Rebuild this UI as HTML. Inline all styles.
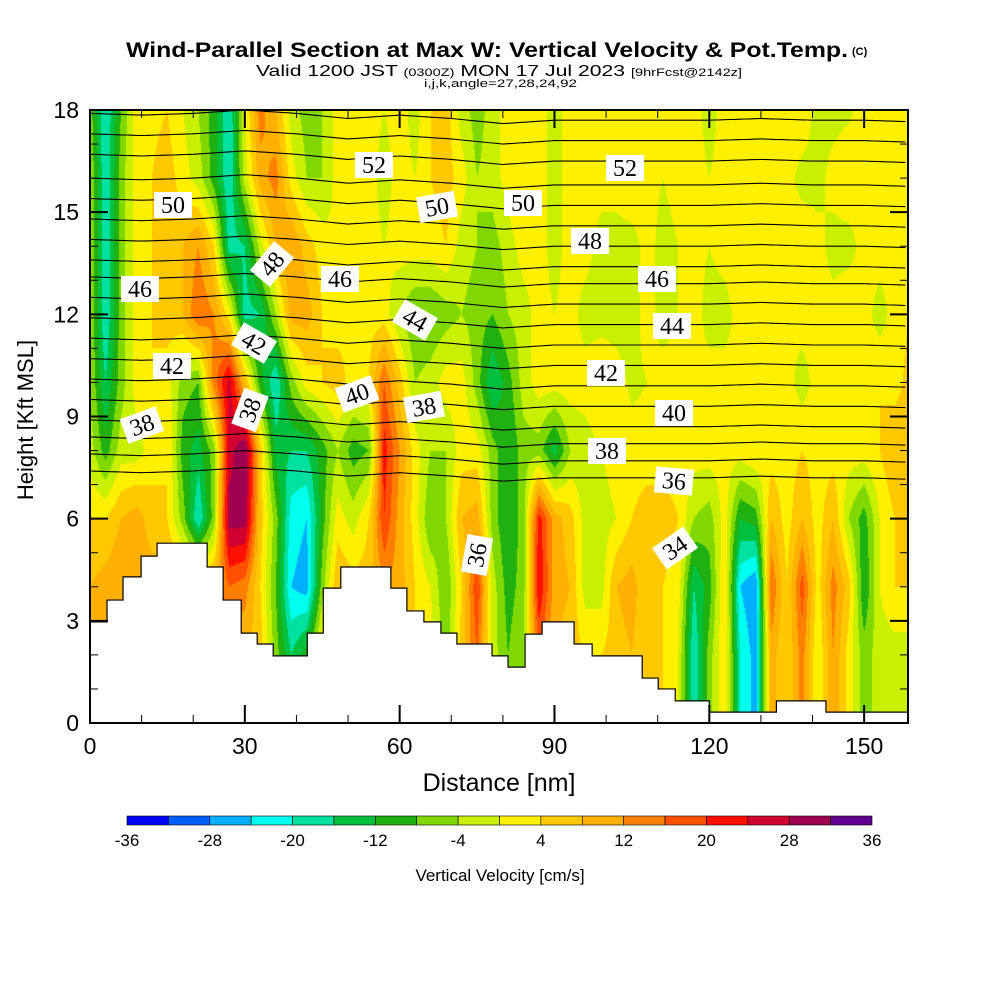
<!DOCTYPE html>
<html><head><meta charset="utf-8">
<style>
html,body{margin:0;padding:0;background:#fff;}
#wrap{position:relative;width:1000px;height:1000px;overflow:hidden;font-family:"Liberation Sans",sans-serif;}
#field{position:absolute;left:90px;top:110px;}
#ov{position:absolute;left:0;top:0;}
</style></head>
<body>
<div id="wrap">
<canvas id="field" width="818" height="613"></canvas>
<svg id="ov" width="1000" height="1000">
  <g>
    <text x="126" y="57" font-size="21" font-weight="bold" textLength="722" lengthAdjust="spacingAndGlyphs">Wind-Parallel Section at Max W: Vertical Velocity &amp; Pot.Temp.</text>
    <text x="852" y="55" font-size="11" font-weight="bold">(C)</text>
    <text x="256" y="76" font-size="16" textLength="486" lengthAdjust="spacingAndGlyphs">Valid 1200 JST <tspan font-size="11">(0300Z)</tspan> MON 17 Jul 2023 <tspan font-size="11">[9hrFcst@2142z]</tspan></text>
    <text x="424" y="87" font-size="11" textLength="153" lengthAdjust="spacingAndGlyphs">i,j,k,angle=27,28,24,92</text>
  </g>
  <g id="terrain"></g>
  <g id="theta"></g>
  <g id="labels"></g>
  <rect x="90" y="110" width="818" height="613" fill="none" stroke="#000" stroke-width="2"/>
  <g id="axes"></g>
  <text x="0" y="0" transform="translate(33,420) rotate(-90)" text-anchor="middle" font-size="22">Height [Kft MSL]</text>
  <text x="499" y="791" text-anchor="middle" font-size="25">Distance [nm]</text>
  <g id="cbar"></g>
  <text x="500" y="881" text-anchor="middle" font-size="17">Vertical Velocity [cm/s]</text>
</svg>
</div>
<script>
// ---- data ----
const binColors = ["#0000ff","#0060ff","#00b0ff","#00ffee","#00e0a0","#00c040","#20b010","#80d800","#c8f000","#fff000","#ffc800","#ffb000","#ff8000","#ff5000","#ff1000","#d00030","#a00050","#600090"];
const cbarTicks = [-36,-28,-20,-12,-4,4,12,20,28,36];
const xTicks = [0,30,60,90,120,150];
const yTicks = [0,3,6,9,12,15,18];
// vertical velocity (cm/s) at distance 0,3,...,159 nm, rows by height (kft)
const w18 = [-6,-20,-8,2,3,4,0,-4,-10,-20,0,14,8,-2,-6,-4,2,4,2,0,2,-2,4,6,-2,-6,-2,2,4,2,-2,2,4,2,2,4,2,2,4,2,-2,2,4,2,2,2,4,-2,-2,-1,2,2,2,2];
const w16 = [-4,-20,-6,2,4,6,2,-2,-10,-20,-2,10,14,2,-4,-4,2,4,2,-2,2,0,4,6,2,-4,-2,2,4,2,-2,2,4,2,2,4,2,0,2,2,0,2,4,4,2,2,-2,-2,2,4,2,2,2,4];
const w14 = [-4,-20,-6,2,4,4,8,12,4,-18,-16,-2,8,12,6,2,0,2,2,0,2,2,2,4,-2,-4,-6,-2,2,2,-2,2,2,-2,-2,-2,2,-2,0,2,0,2,4,2,2,2,4,2,-2,-2,2,2,2,4];
const w12 = [-4,-20,-6,2,4,6,8,16,12,2,-18,-16,-4,10,10,4,2,4,2,2,-4,-8,-8,-6,-4,-6,-8,-4,-2,2,0,2,-2,-2,-2,-2,2,-2,0,2,-2,-2,2,2,2,0,2,2,2,4,2,-2,2,4];
const w10 = [-4,-16,-6,2,4,2,-6,-8,14,26,8,-10,-20,-6,2,4,6,2,4,16,6,-4,-2,2,2,-6,-16,-10,-2,2,2,2,2,4,2,-1,0,2,2,2,2,2,2,4,2,2,-2,2,4,2,2,4,2,6];
const w8  = [-2,-10,-2,-2,2,4,-10,-14,-6,26,32,6,-14,-16,-16,-10,-4,-10,-8,22,12,2,-4,-4,2,2,-6,-12,-6,-6,-14,-4,-2,0,2,2,2,2,2,2,2,2,2,4,2,2,4,2,2,2,2,4,8,8];
const w6  = [4,4,8,10,6,4,-6,-20,-6,30,30,6,-6,-22,-24,-10,2,-2,4,20,10,2,-8,-4,8,10,-6,-12,-6,22,10,6,-2,-2,0,4,6,6,4,-4,-6,2,-12,-10,8,2,8,2,8,-4,-10,0,4,8];
const w4  = [8,10,12,10,10,10,10,10,10,16,14,4,-8,-24,-26,-6,8,6,6,12,10,4,0,-8,4,20,-2,-10,-6,24,10,8,-2,-2,8,10,4,4,2,-16,-10,4,-24,-28,16,4,18,2,14,6,-12,0,4,4];
const w2  = [10,10,10,10,10,10,10,10,10,8,8,6,-6,-16,-10,4,6,6,6,6,6,4,2,-6,6,16,-2,-8,-4,16,8,6,4,4,6,8,4,4,0,-20,-6,4,-20,-26,10,4,14,0,12,2,-6,-2,-2,-2];
const w0  = [10,10,10,10,10,10,10,10,10,8,8,6,-6,-16,-10,4,6,6,6,6,6,4,2,-6,6,16,-2,-8,-4,16,8,6,4,4,6,8,4,4,0,-20,-6,4,-20,-26,10,4,14,0,12,2,-6,-2,-2,-2];
// terrain steps: boundaries (nm) and heights (kft)
const terrainEdges = [0,3.3,6.4,9.9,13.0,22.7,25.8,29.3,32.4,35.5,42.1,45.2,48.6,58.3,61.4,64.7,68.0,71.1,77.9,81.0,84.3,87.6,93.8,97.3,107.0,110.1,113.4,120.0,133.0,142.6,158.5];
const terrainHeights = [2.97,3.61,4.29,4.90,5.28,4.58,3.61,2.64,2.32,1.97,2.64,3.96,4.58,3.96,3.29,2.97,2.64,2.32,1.97,1.64,2.61,2.97,2.32,1.97,1.32,1.0,0.65,0.32,0.65,0.32];
// potential temperature isentropes: levels (C) and base heights (kft)
const thetaLevels = [36,37,38,39,40,41,42,43,44,45,46,47,48,49,50,51,52,53,54,55];
const thetaBase = [7.2,7.7,8.2,8.7,9.3,9.9,10.5,11.1,11.7,12.3,12.9,13.4,14.0,14.6,15.2,15.8,16.5,17.1,17.7,18.3];
// displacement of isentropes (kft) at 0,10,...,150,158 nm
const thetaDisp = [0.2,0.15,0.2,0.3,0.2,0.05,0.15,0.05,-0.1,0.0,0.0,0.0,0.0,0.05,0.0,0.0,-0.05];
const thetaLabels = [["52",374,165,0],["52",625,168,0],["50",173,205,0],["50",437,207,-10],["50",523,203,0],["48",590,241,0],["48",272,264,-50],["46",140,289,0],["46",340,279,0],["46",657,279,0],["44",415,320,30],["44",672,326,0],["42",172,366,0],["42",254,343,30],["42",606,373,0],["40",357,394,-20],["40",674,413,0],["38",142,425,-20],["38",250,410,-70],["38",424,407,-10],["38",607,451,0],["36",674,481,5],["36",477,555,-80],["34",675,548,-35]];

// ---- scales ----
const X0=90, Y0=723, W=818, H=613, XMAX=158.5, ZMAX=18;
const sx = d => X0 + d / XMAX * W;
const sy = z => Y0 - z / ZMAX * H;
const NS='http://www.w3.org/2000/svg';
function mk(tag, attrs, parent){const e=document.createElementNS(NS,tag);for(const k in attrs)e.setAttribute(k,attrs[k]);parent.appendChild(e);return e;}

// ---- field ----
const rows = [w0,w2,w4,w6,w8,w10,w12,w14,w16,w18];
const rgb = binColors.map(c=>[parseInt(c.substr(1,2),16),parseInt(c.substr(3,2),16),parseInt(c.substr(5,2),16)]);
const cv = document.getElementById('field'); const ctx = cv.getContext('2d');
const img = ctx.createImageData(W,H);
for(let py=0;py<H;py++){
  const z = (H - py - 0.5)/H*ZMAX; let fz = z/2; let j=Math.min(Math.floor(fz),rows.length-2); let tz=fz-j;
  for(let px=0;px<W;px++){
    const d=(px+0.5)/W*XMAX; let fx=d/3; let i=Math.min(Math.floor(fx),w0.length-2); let tx=fx-i;
    const a=rows[j][i]*(1-tx)+rows[j][i+1]*tx, b=rows[j+1][i]*(1-tx)+rows[j+1][i+1]*tx;
    const v=a*(1-tz)+b*tz;
    let k=Math.floor((v+36)/4); k=Math.max(0,Math.min(17,k));
    const o=(py*W+px)*4; img.data[o]=rgb[k][0];img.data[o+1]=rgb[k][1];img.data[o+2]=rgb[k][2];img.data[o+3]=255;
  }
}
ctx.putImageData(img,0,0);

// ---- theta contours ----
const gT=document.getElementById('theta');
function terrainAt(d){for(let i=0;i<terrainHeights.length;i++){if(d<terrainEdges[i+1])return terrainHeights[i];}return terrainHeights[terrainHeights.length-1];}
thetaLevels.forEach((lv,li)=>{
  let pts=[];
  for(let d=0; d<=XMAX; d+=1){
    const f=Math.min(d/10,thetaDisp.length-1.001); const i=Math.floor(f), t=f-i;
    const z=thetaBase[li]+thetaDisp[i]*(1-t)+thetaDisp[i+1]*t;
    if(z<=ZMAX && z>terrainAt(d)) pts.push(sx(d).toFixed(1)+','+sy(z).toFixed(1));
  }
  if(pts.length>1){
    const p=mk('polyline',{points:pts.join(' '),fill:'none',stroke:'#000','stroke-width':1.1},gT);
    
    
  }
});

// ---- terrain ----
const gTer=document.getElementById('terrain');
let tp=[sx(0)+','+sy(0)];
terrainHeights.forEach((h,i)=>{tp.push(sx(terrainEdges[i])+','+sy(h));tp.push(sx(terrainEdges[i+1])+','+sy(h));});
tp.push(sx(XMAX)+','+sy(0));
const terr=mk('polygon',{points:tp.join(' '),fill:'#fff',stroke:'#000','stroke-width':1.2},gTer);



// ---- labels ----
const gL=document.getElementById('labels');
thetaLabels.forEach(l=>{
  const g=mk('g',{transform:`translate(${l[1]},${l[2]}) rotate(${l[3]})`},gL);
  
  
  mk('rect',{x:-19,y:-13,width:38,height:26,fill:'#fff'},g);
  const t=mk('text',{x:0,y:8,'text-anchor':'middle','font-size':24,'font-family':'"Liberation Serif",serif'},g);
  t.textContent=l[0];
});

// ---- axes ----
const gA=document.getElementById('axes');
for(let d=0; d<=XMAX; d+=10){
  const major = d%30===0;
  const tk=mk('line',{x1:sx(d),x2:sx(d),y1:Y0,y2:Y0-(major?18:8),stroke:'#000','stroke-width':major?2:1},gA);
   
  const tk2=mk('line',{x1:sx(d),x2:sx(d),y1:110,y2:110+(major?18:8),stroke:'#000','stroke-width':major?2:1},gA);
   
}
for(let z=0; z<=ZMAX; z+=1){
  const major = z%3===0;
  const tk=mk('line',{x1:X0,x2:X0+(major?18:8),y1:sy(z),y2:sy(z),stroke:'#000','stroke-width':major?2:1},gA);
   
  const tk2=mk('line',{x1:908,x2:908-(major?18:8),y1:sy(z),y2:sy(z),stroke:'#000','stroke-width':major?2:1},gA);
   
}
xTicks.forEach(d=>{
  const t=mk('text',{x:sx(d),y:754,'text-anchor':'middle','font-size':23},gA);
   
  t.textContent=d;
});
yTicks.forEach(z=>{
  const t=mk('text',{x:79,y:sy(z)+8,'text-anchor':'end','font-size':23},gA);
   
  t.textContent=z;
});

// ---- colorbar ----
const gC=document.getElementById('cbar');
const cbX0=127, cbX1=872, cbW=(cbX1-cbX0)/binColors.length;
binColors.forEach((c,i)=>{
  const r=mk('rect',{x:cbX0+i*cbW,y:816,width:cbW,height:9,fill:c,stroke:'#000','stroke-width':0.6},gC);
   
});
cbarTicks.forEach(v=>{
  const t=mk('text',{x:cbX0+(v+36)/72*(cbX1-cbX0),y:846,'text-anchor':'middle','font-size':17},gC);
   
  t.textContent=v;
});
</script>
</body></html>
